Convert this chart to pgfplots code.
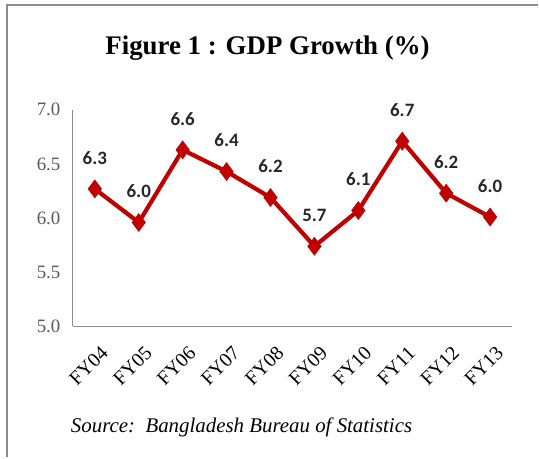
\documentclass[border=0pt]{standalone}
\usepackage{fontspec}
\setmainfont{Liberation Serif}
\newfontfamily\calibri{Carlito}
\usepackage{pgfplots}
\pgfplotsset{compat=1.18}

\definecolor{linered}{HTML}{C00000}
\definecolor{axisgray}{HTML}{8C8C8C}
\definecolor{labelgray}{HTML}{595959}

\begin{document}
\begin{tikzpicture}
% page frame (539 x 458 px, 1px = 1bp)
\path (0bp,0bp) rectangle (539bp,458bp);
\draw[axisgray, line width=2bp] (7bp,0bp) -- (7bp,453bp) -- (539bp,453bp);

\node[font=\bfseries\fontsize{27}{30}\selectfont] at (268bp,410bp) {Figure 1 : GDP Growth (\%)};

\begin{axis}[
    at={(73bp,131bp)}, anchor=south west,
    scale only axis,
    width=440bp, height=217bp,
    xmin=-0.5, xmax=9.5,
    ymin=5, ymax=7,
    ytick={5,5.5,6,6.5,7},
    xtick={0,...,9},
    xticklabels={FY04,FY05,FY06,FY07,FY08,FY09,FY10,FY11,FY12,FY13},
    axis x line*=bottom,
    axis y line*=left,
    axis line style={axisgray, line width=0.8bp},
    major tick length=0pt,
    /pgf/number format/assume math mode=true,
    yticklabel style={/pgf/number format/fixed, /pgf/number format/fixed zerofill,
        /pgf/number format/precision=1, font=\rmfamily\fontsize{19}{21}\selectfont,
        text=labelgray, anchor=east, xshift=-9bp},
    x tick label style={xshift=5bp, yshift=-14bp, rotate=45, anchor=north east,
        font=\fontsize{20}{22}\selectfont},
    point meta=explicit symbolic,
    nodes near coords,
    every node near coord/.append style={anchor=center, yshift=31bp,
        font=\calibri\bfseries\fontsize{19}{21}\selectfont, text=black!85},
    clip=false,
]
\addplot[color=linered, line width=4.2bp, mark=diamond*, mark size=6bp,
    mark options={solid, fill=linered}]
    coordinates {
    (0,6.27)[6.3] (1,5.96)[6.0] (2,6.63)[6.6] (3,6.43)[6.4] (4,6.19)[6.2]
    (5,5.74)[5.7] (6,6.07)[6.1] (7,6.71)[6.7] (8,6.23)[6.2] (9,6.01)[6.0]
    };
\end{axis}

\node[font=\itshape\fontsize{21}{24}\selectfont] at (242bp,30bp)
    {Source:\ \ Bangladesh Bureau of Statistics};
\end{tikzpicture}
\end{document}
